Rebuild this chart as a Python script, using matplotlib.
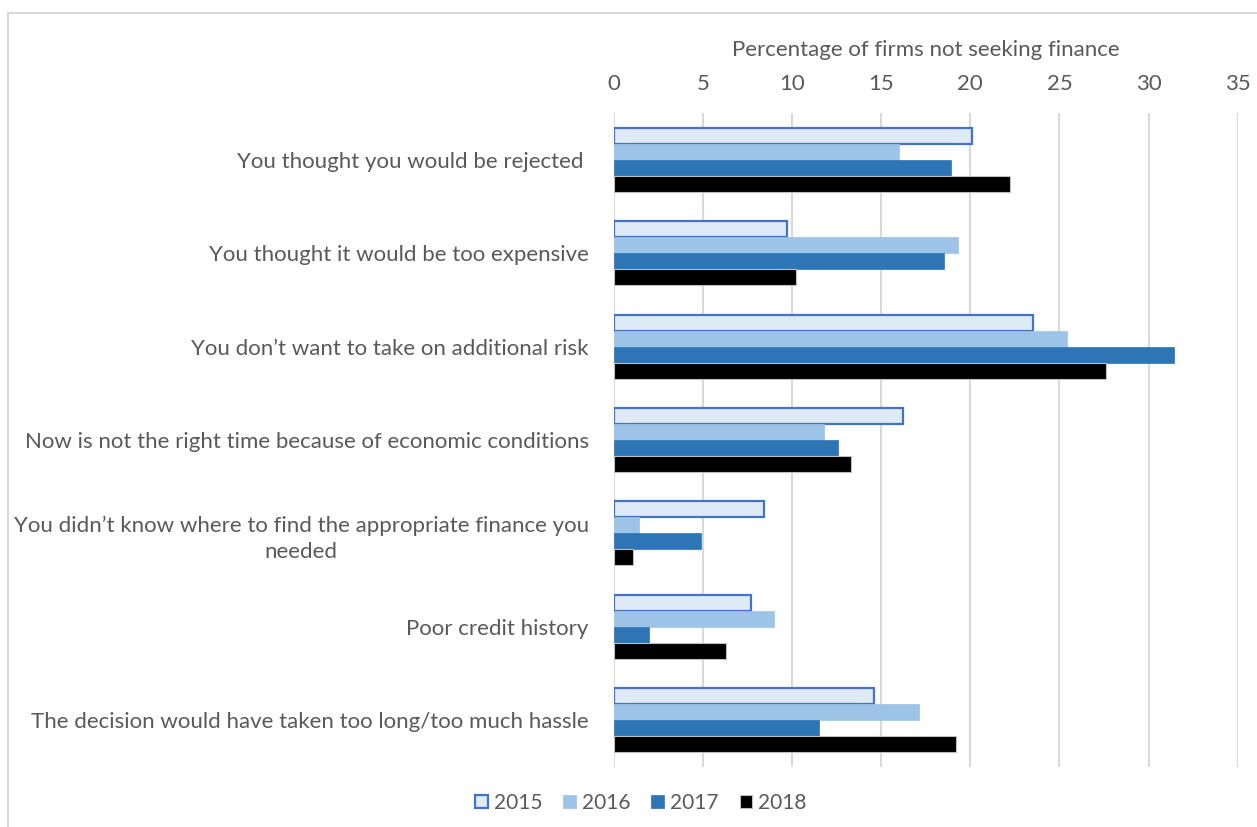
import numpy as np
import matplotlib
matplotlib.use('Agg')
import matplotlib.pyplot as plt
from matplotlib.patches import Rectangle

# data
reasons = ['You thought you would be rejected ',
           'You thought it would be too expensive',
           'You don\u2019t want to take on additional risk',
           'Now is not the right time because of economic conditions',
           'You didn\u2019t know where to find the appropriate finance you\nneeded',
           'Poor credit history',
           'The decision would have taken too long/too much hassle']
years = ['2015', '2016', '2017', '2018']
y2015 = [20.1, 9.7, 23.5, 16.2, 8.4, 7.7, 14.6]
y2016 = [16.0, 19.3, 25.4, 11.8, 1.4, 9.0, 17.1]
y2017 = [18.9, 18.5, 31.4, 12.6, 4.9, 2.0, 11.5]
y2018 = [22.2, 10.2, 27.6, 13.3, 1.1, 6.3, 19.2]
x_ticks = [0, 5, 10, 15, 20, 25, 30, 35]

fills = ['#DEEBF7', '#9DC3E6', '#2E75B6', '#000000']
edges = ['#4472C4', '#9DC3E6', '#2E75B6', '#BFBFBF']
edge_w = [1.6, 0.5, 0.5, 0.8]
text_col = '#595959'

plt.rcParams['font.family'] = ['Lato', 'DejaVu Sans']

W, H = 1257, 827
fig = plt.figure(figsize=(W / 100, H / 100), dpi=100)
ax = fig.add_axes([613.8 / W, 1 - 766.7 / H, (1237.7 - 613.8) / W, (766.7 - 113.3) / H])

pos = np.arange(len(reasons))
h = 0.1715
series = [y2015, y2016, y2017, y2018]
for i, vals in enumerate(series):
    ax.barh(pos + (i - 1.5) * h, vals, height=h, color=fills[i],
            edgecolor=edges[i], linewidth=edge_w[i], label=years[i], zorder=3)

ax.set_ylim(len(reasons) - 0.5, -0.5)
ax.set_xlim(0, 35)
ax.set_xticks(x_ticks)
ax.xaxis.tick_top()
ax.xaxis.set_label_position('top')
ax.set_xlabel('Percentage of firms not seeking finance', fontsize=16,
              color=text_col, labelpad=13)
ax.tick_params(axis='x', length=0, pad=14, labelsize=16, labelcolor=text_col)
ax.tick_params(axis='y', length=0, pad=18, labelsize=16, labelcolor=text_col)
ax.set_yticks(pos)
ax.set_yticklabels(reasons, multialignment='center', linespacing=1.4)
ax.grid(axis='x', color='#D9D9D9', linewidth=1.5, zorder=0)
for s in ax.spines.values():
    s.set_visible(False)

# outer chart border (only left and top show in the crop)
fig.patches.append(Rectangle((8 / W, -0.1), 1.2, (H - 13) / H + 0.1,
                             transform=fig.transFigure, fill=False,
                             ec='#D9D9D9', lw=1.5))

leg = fig.legend(loc='center', bbox_to_anchor=(641 / W, 1 - 803 / H), ncol=4,
                 frameon=False, fontsize=15, handlelength=0.6,
                 handleheight=0.6, handletextpad=0.3, columnspacing=1.0)
for t in leg.get_texts():
    t.set_color(text_col)

fig.savefig('out.png', dpi=100)
